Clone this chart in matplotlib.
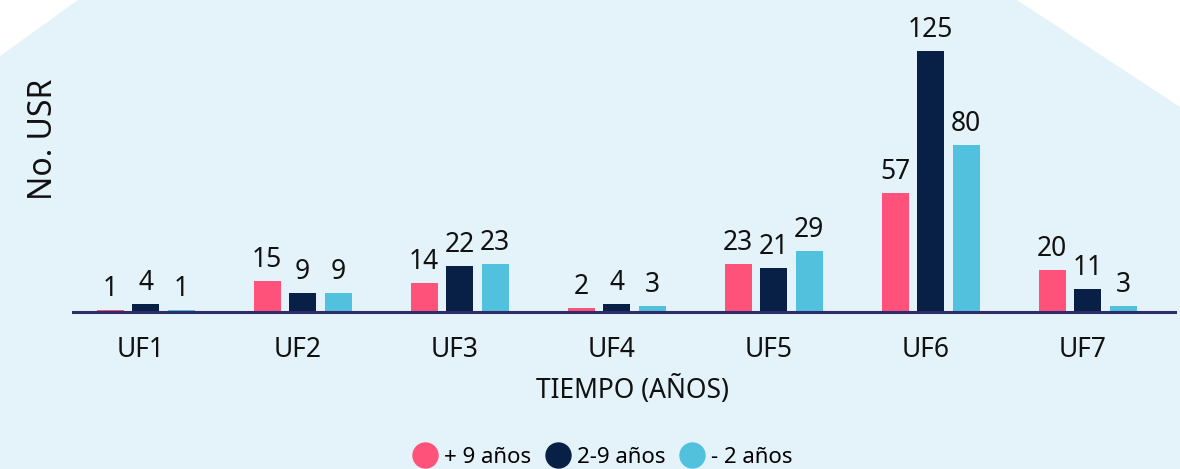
import matplotlib
matplotlib.use("Agg")
import matplotlib.pyplot as plt
from matplotlib.patches import Polygon
from matplotlib.lines import Line2D
import numpy as np

categories = ["UF1", "UF2", "UF3", "UF4", "UF5", "UF6", "UF7"]
series_names = ["+ 9 años", "2-9 años", "- 2 años"]
mas_9 = [1, 15, 14, 2, 23, 57, 20]
de_2_9 = [4, 9, 22, 4, 21, 125, 11]
menos_2 = [1, 9, 23, 3, 29, 80, 3]
series = [mas_9, de_2_9, menos_2]
colors = ["#ff527b", "#082045", "#52c1dd"]

plt.rcParams['font.family'] = ['Noto Sans', 'DejaVu Sans']

W, H = 1180, 469
fig = plt.figure(figsize=(W / 100, H / 100), dpi=100, facecolor="white")

# background shape
bg = Polygon([(0, 1 - 56 / H), (78 / W, 1), (1017 / W, 1), (1, 1 - 107 / H), (1, 0), (0, 0)],
             closed=True, transform=fig.transFigure, facecolor="#e4f3f9", edgecolor="none", zorder=-10)
fig.patches.append(bg)

ax_left, ax_right = 73 / W, 1175 / W
ax_bottom = (H - 312) / H
ax_top = 1 - 40.5 / H
ax = fig.add_axes([ax_left, ax_bottom, ax_right - ax_left, ax_top - ax_bottom])
ax.set_zorder(2)
ax.set_facecolor("none")

x = np.arange(len(categories))
bw = 27 / 157
off = 35.5 / 157
for i, (vals, c) in enumerate(zip(series, colors)):
    bars = ax.bar(x + (i - 1) * off, vals, width=bw, color=c, zorder=2, label=series_names[i])
    ax.bar_label(bars, padding=5, fontsize=19, color="#111111")

ax.set_xlim(-0.462, 6.557)
ax.set_ylim(0, 130)
ax.set_yticks([])
ax.set_xticks(x - 0.03)
ax.set_xticklabels(categories, fontsize=19, color="#111111")
ax.tick_params(axis="x", length=0, pad=17)
for s in ["top", "right", "left"]:
    ax.spines[s].set_visible(False)
ax.spines["bottom"].set_color("#2e2c6a")
ax.spines["bottom"].set_linewidth(2.2)
ax.spines["bottom"].set_zorder(3)

fig.text(632 / W, 1 - 390 / H, "TIEMPO (AÑOS)", fontsize=19, ha="center", va="center", color="#111111")
fig.text(44 / W, 1 - 139 / H, "No. USR", fontsize=23, rotation=90, ha="center", va="center", color="#111111")

handles = [Line2D([0], [0], marker="o", linestyle="none", markersize=18,
                  markerfacecolor=c, markeredgecolor=c) for c in colors]
fig.legend(handles, series_names, loc="center", bbox_to_anchor=(601 / W, 12 / H), ncol=3,
           frameon=False, fontsize=16, handletextpad=0.15, columnspacing=0.5, handlelength=1.4,
           borderaxespad=0)

fig.savefig("out.png", dpi=100, facecolor="white")
